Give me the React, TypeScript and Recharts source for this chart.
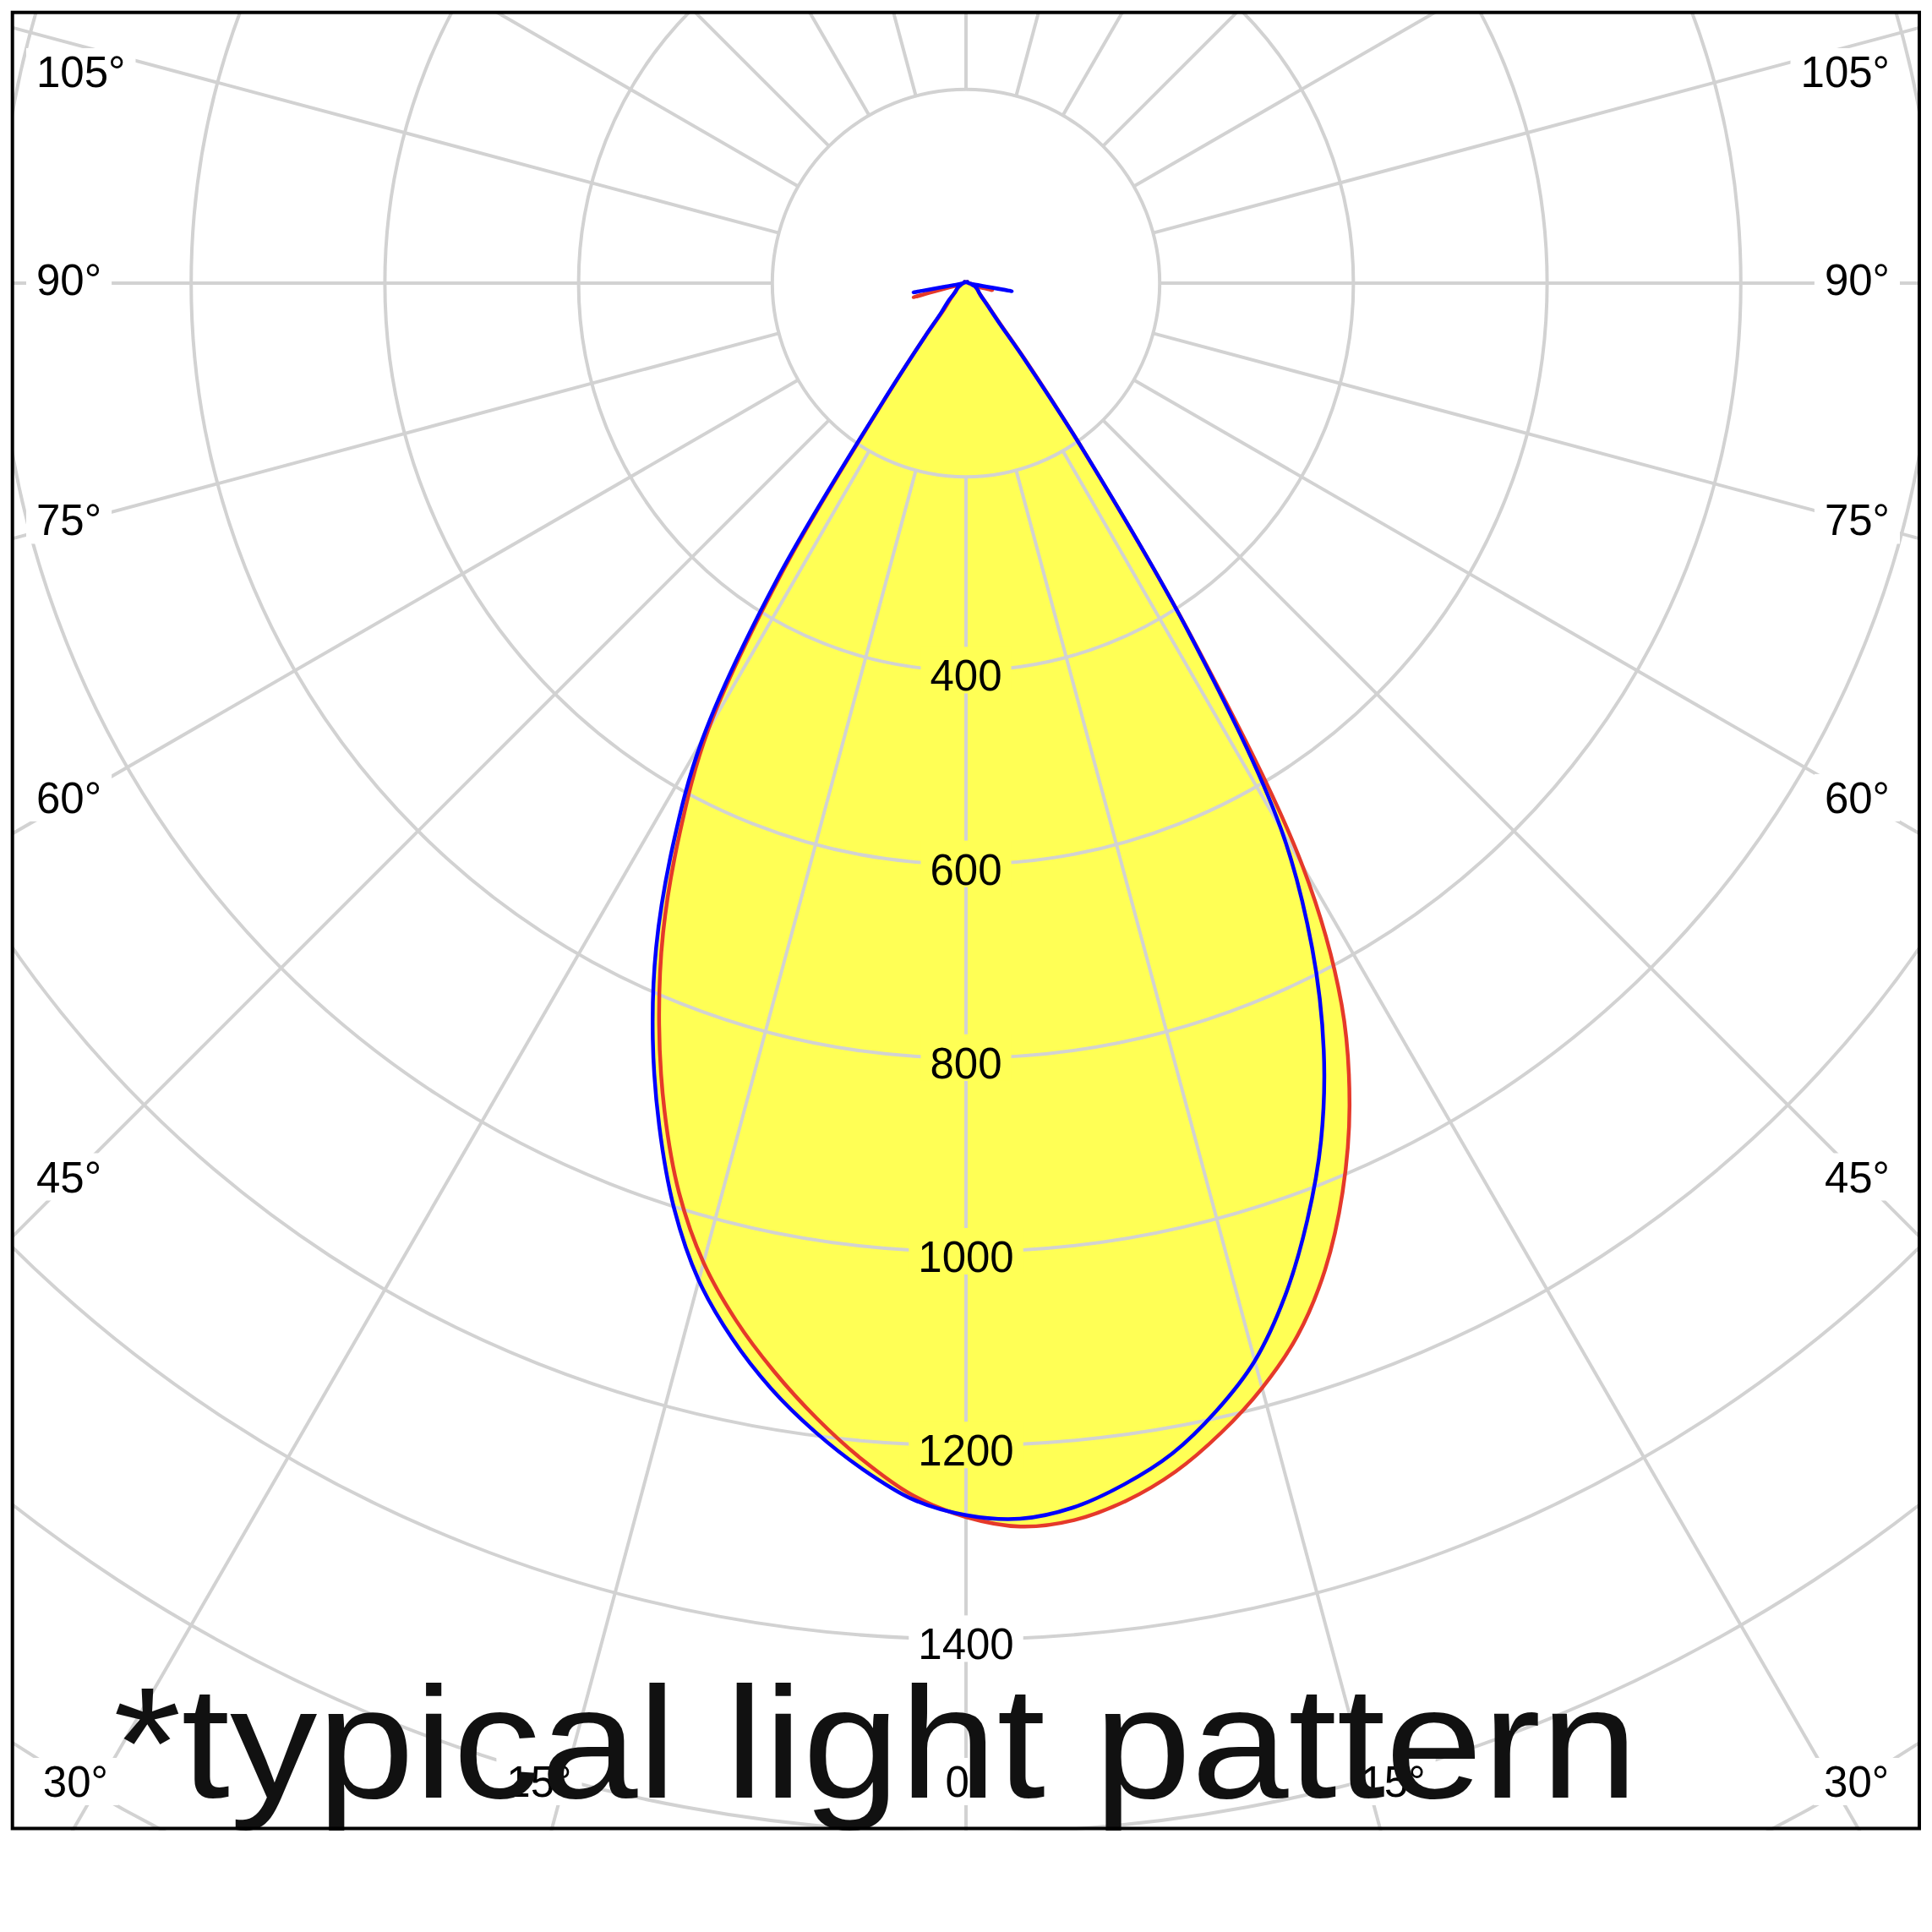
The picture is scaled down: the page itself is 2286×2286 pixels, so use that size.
import React from 'react';
import { RadarChart, Radar, PolarGrid, PolarAngleAxis, PolarRadiusAxis } from 'recharts';

// ---- data (candela values) ----
// gamma angles measured from nadir (0° = straight down)
const ANGLES = [0, 2.5, 5, 7.5, 10, 12.5, 15, 17.5, 20, 22.5, 25, 27.5, 30, 32.5, 35, 37.5, 40, 45, 50, 55, 60, 65, 70, 75, 80, 85, 90, 105, 120, 135, 150, 165, 180];

// red plane (C0 / C180)
const RED_RIGHT = [1274, 1285, 1282, 1268, 1246, 1216, 1181, 1139, 1084, 1016, 937, 840, 695, 435, 215, 105, 55, 30, 20, 16, 14, 12, 10, 28, 6, 4, 3, 2, 2, 2, 1, 1, 1];
const RED_LEFT = [1274, 1253, 1220, 1182, 1141, 1097, 1047, 985, 910, 828, 740, 640, 532, 350, 145, 70, 35, 22, 15, 12, 10, 8, 6, 56, 5, 3, 3, 2, 2, 2, 1, 1, 1];
// blue plane (C90 / C270)
const BLUE_RIGHT = [1272, 1277, 1269, 1251, 1227, 1193, 1152, 1096, 1030, 958, 874, 774, 650, 430, 215, 100, 52, 29, 20, 16, 14, 12, 10, 6, 48, 4, 3, 2, 2, 2, 1, 1, 1];
const BLUE_LEFT = [1272, 1257, 1229, 1196, 1159, 1116, 1066, 1002, 926, 845, 757, 656, 545, 365, 150, 70, 40, 25, 15, 12, 10, 8, 6, 5, 55, 4, 3, 2, 2, 2, 1, 1, 1];

const RADIUS_LABELS = [400, 600, 800, 1000, 1200, 1400];
const MAX_LABELED_ANGLE = 105;
const TITLE = '*typical light pattern';

// ---- layout ----
const PAGE_CX = 1143;
const PAGE_CY = 335;
const CHART_X = 13;
const CHART_Y = 13;
const CHART_W = 2260;
const CHART_H = 2153;
const PX_PER_CD = 1.146;
const R_MIN = 200;
const R_MAX = 2000;

const FONT = "'Liberation Sans', Arial, sans-serif";
const FS_LABEL = 51;
const YELLOW = '#ffff55';
const RED = '#e5392a';
const BLUE = '#0000ff';
const GRID = '#d2d2d2';

type Row = { angle: number; red: number; blue: number };
const rows: Row[] = [];
ANGLES.forEach((g, i) => rows.push({ angle: g, red: RED_RIGHT[i], blue: BLUE_RIGHT[i] }));
for (let i = ANGLES.length - 2; i >= 1; i--) {
  rows.push({ angle: 360 - ANGLES[i], red: RED_LEFT[i], blue: BLUE_LEFT[i] });
}

function labelWidth(s: string, fs: number) {
  let w = 0;
  for (const ch of s) w += ch === '°' ? 0.4 : 0.556;
  return w * fs;
}

// closed centripetal Catmull-Rom path through the points computed by the Radar
function smoothClosedPath(pts: { x: number; y: number }[]) {
  const n = pts.length;
  if (n < 3) return '';
  const eps = 1e-6;
  const get = (i: number) => pts[((i % n) + n) % n];
  let d = `M${get(0).x},${get(0).y}`;
  for (let i = 0; i < n; i++) {
    const p0 = get(i - 1), p1 = get(i), p2 = get(i + 1), p3 = get(i + 2);
    const l01 = Math.hypot(p1.x - p0.x, p1.y - p0.y);
    const l12 = Math.hypot(p2.x - p1.x, p2.y - p1.y);
    const l23 = Math.hypot(p3.x - p2.x, p3.y - p2.y);
    const l01a = Math.sqrt(l01), l12a = Math.sqrt(l12), l23a = Math.sqrt(l23);
    let c1x = p1.x, c1y = p1.y, c2x = p2.x, c2y = p2.y;
    if (l01a > eps) {
      const a = 2 * l01 + 3 * l01a * l12a + l12;
      const m = 3 * l01a * (l01a + l12a);
      c1x = (p1.x * a - p0.x * l12 + p2.x * l01) / m;
      c1y = (p1.y * a - p0.y * l12 + p2.y * l01) / m;
    }
    if (l23a > eps) {
      const b = 2 * l23 + 3 * l23a * l12a + l12;
      const m = 3 * l23a * (l23a + l12a);
      c2x = (p2.x * b + p1.x * l23 - p3.x * l12) / m;
      c2y = (p2.y * b + p1.y * l23 - p3.y * l12) / m;
    }
    d += `C${c1x},${c1y},${c2x},${c2y},${p2.x},${p2.y}`;
  }
  return d + 'Z';
}

function SmoothRadarShape(props: any) {
  const { points, stroke, strokeWidth, fill, fillOpacity } = props;
  if (!points || !points.length) return <g />;
  return (
    <path
      d={smoothClosedPath(points)}
      stroke={stroke}
      strokeWidth={strokeWidth}
      fill={fill}
      fillOpacity={fillOpacity}
      strokeLinejoin="round"
    />
  );
}

function RadiusTick(props: any) {
  const { x, y, payload } = props;
  const v = Number(payload?.value);
  if (!RADIUS_LABELS.includes(v)) return null;
  const text = String(v);
  const w = labelWidth(text, FS_LABEL);
  const bg = v < Math.min(RED_RIGHT[0], BLUE_RIGHT[0]) ? YELLOW : '#ffffff';
  return (
    <g>
      <rect x={x - w / 2 - 11} y={y - 28} width={w + 22} height={55} fill={bg} />
      <text x={x} y={y + 24} textAnchor="middle" fontSize={FS_LABEL} fontFamily={FONT} fill="#000">
        {text}
      </text>
    </g>
  );
}

function AngleTick(props: any) {
  const theta = Number(props.payload?.value);
  if (!isFinite(theta) || theta >= 360) return null;
  const g = theta <= 180 ? theta : 360 - theta;
  if (g > MAX_LABELED_ANGLE) return null;
  const side = theta === 0 ? 0 : theta < 180 ? 1 : -1;
  const text = `${g}°`;
  const w = labelWidth(text, FS_LABEL);
  const rad = (g * Math.PI) / 180;
  let px: number;
  let py: number;
  if (g >= 45) {
    const yy = PAGE_CY + (1061.5 * Math.cos(rad)) / Math.sin(rad) - 4;
    py = Math.max(85, yy);
    px = side < 0 ? 43 + w / 2 : 2236 - w / 2;
  } else {
    py = 2108;
    px = PAGE_CX + side * ((2108 - PAGE_CY) * Math.tan(rad) + (g > 0 ? 30 : 0));
  }
  const x = px - CHART_X;
  const y = py - CHART_Y;
  return (
    <g>
      <rect x={x - w / 2 - 12} y={y - 28} width={w + 24} height={56} fill="#ffffff" />
      <text x={x} y={y + 18} textAnchor="middle" fontSize={FS_LABEL} fontFamily={FONT} fill="#000">
        {text}
      </text>
    </g>
  );
}

export default function App() {
  return (
    <div style={{ position: 'absolute', left: 0, top: 0, width: 2286, height: 2286, background: '#fff' }}>
      <div style={{ position: 'absolute', left: CHART_X, top: CHART_Y, width: CHART_W, height: CHART_H }}>
        <RadarChart
          width={CHART_W}
          height={CHART_H}
          data={rows}
          cx={PAGE_CX - CHART_X}
          cy={PAGE_CY - CHART_Y}
          innerRadius={R_MIN * PX_PER_CD}
          outerRadius={R_MAX * PX_PER_CD}
          startAngle={-90}
          endAngle={270}
          margin={{ top: 0, right: 0, bottom: 0, left: 0 }}
        >
          <Radar dataKey="red" stroke="none" fill={YELLOW} fillOpacity={1} dot={false} isAnimationActive={false} zIndex={100} shape={SmoothRadarShape} />
          <Radar dataKey="blue" stroke="none" fill={YELLOW} fillOpacity={1} dot={false} isAnimationActive={false} zIndex={100} shape={SmoothRadarShape} />
          <PolarGrid gridType="circle" stroke={GRID} strokeWidth={4} fill="none" zIndex={150} />
          <Radar dataKey="red" stroke={RED} strokeWidth={4.5} fill="none" fillOpacity={0} dot={false} isAnimationActive={false} zIndex={300} shape={SmoothRadarShape} />
          <Radar dataKey="blue" stroke={BLUE} strokeWidth={4.5} fill="none" fillOpacity={0} dot={false} isAnimationActive={false} zIndex={310} shape={SmoothRadarShape} />
          <PolarAngleAxis
            dataKey="angle"
            type="number"
            domain={[0, 360]}
            tickCount={25}
            axisLine={false}
            tickLine={false}
            tick={AngleTick}
          />
          <PolarRadiusAxis
            angle={-90}
            domain={[R_MIN, R_MAX]}
            allowDataOverflow={true}
            tickCount={10}
            axisLine={false}
            tick={RadiusTick}
          />
        </RadarChart>
      </div>
      <svg
        width={2286}
        height={2286}
        style={{ position: 'absolute', left: 0, top: 0, pointerEvents: 'none' }}
      >
        <text
          x={134}
          y={2127}
          fontSize={188}
          fontFamily={FONT}
          fill="#111"
          textLength={1804}
          lengthAdjust="spacingAndGlyphs"
        >
          {TITLE}
        </text>
        <rect x={14.7} y={14.7} width={2256.3} height={2148.8} fill="none" stroke="#000" strokeWidth={4} />
      </svg>
    </div>
  );
}
